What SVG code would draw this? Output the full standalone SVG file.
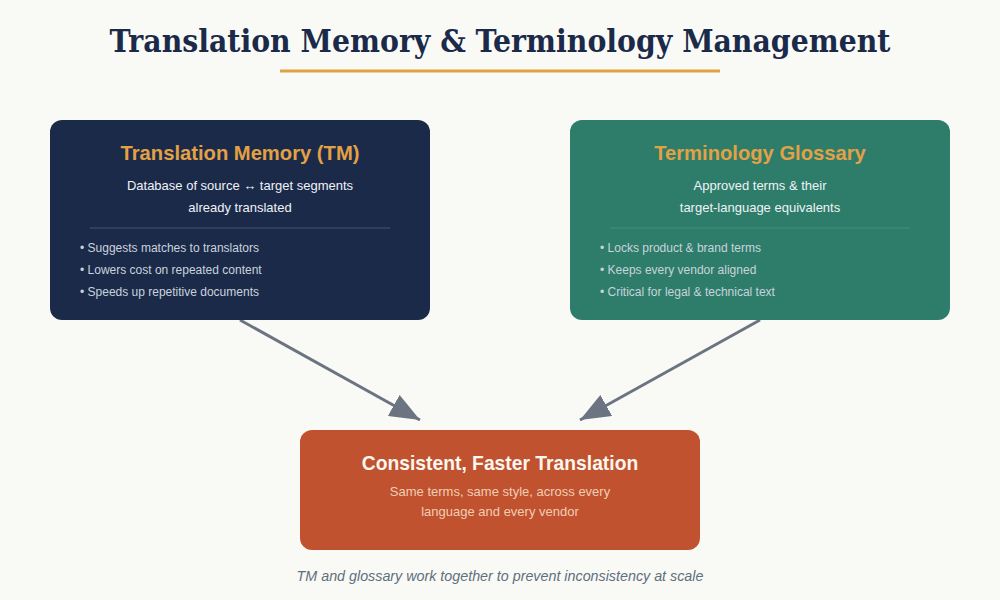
<svg xmlns="http://www.w3.org/2000/svg" width="1000" height="600" viewBox="0 0 1000 600">
<defs>
<style>
.sans{font-family:"Liberation Sans",Arial,sans-serif}
.ttl{font-size:20.2px;font-weight:bold;fill:#e2a145;text-anchor:middle}
.sub{font-size:13px;fill:#eef2f6;text-anchor:middle}
.bul{font-size:12px;fill:#c9d3dc}
.conn{stroke:#6b7480;stroke-width:3;fill:none}
</style>
<marker id="ah" markerUnits="userSpaceOnUse" markerWidth="32" markerHeight="24" refX="30" refY="12" orient="auto">
<path d="M0,0 L30,12 L0,24 Z" fill="#6b7480"/>
</marker>
</defs>
<rect width="1000" height="600" fill="#f9faf6"/>
<text x="500" y="52" font-family="DejaVu Serif,serif" font-weight="bold" font-stretch="condensed" font-size="31.5" fill="#1c2a4a" text-anchor="middle">Translation Memory &amp; Terminology Management</text>
<line x1="280" y1="71" x2="720" y2="71" stroke="#e2a145" stroke-width="3"/>
<g id="connectors">
<line class="conn" x1="240" y1="320" x2="420" y2="420" marker-end="url(#ah)"/>
<line class="conn" x1="760" y1="320" x2="580" y2="420" marker-end="url(#ah)"/>
</g>
<g id="tm" class="sans">
<rect x="50" y="120" width="380" height="200" rx="12" fill="#1c2a4a"/>
<text class="ttl" x="240" y="160">Translation Memory (TM)</text>
<text class="sub" x="240" y="190">Database of source ↔ target segments</text>
<text class="sub" x="240" y="212">already translated</text>
<line x1="90" y1="228" x2="390" y2="228" stroke="#34456a" stroke-width="1.5"/>
<text class="bul" x="80" y="251.5">• Suggests matches to translators</text>
<text class="bul" x="80" y="273.5">• Lowers cost on repeated content</text>
<text class="bul" x="80" y="295.5">• Speeds up repetitive documents</text>
</g>
<g id="glossary" class="sans">
<rect x="570" y="120" width="380" height="200" rx="12" fill="#2e7d6b"/>
<text class="ttl" x="760" y="160">Terminology Glossary</text>
<text class="sub" x="760" y="190">Approved terms &amp; their</text>
<text class="sub" x="760" y="212">target-language equivalents</text>
<line x1="610" y1="228" x2="910" y2="228" stroke="#3a8a78" stroke-width="1.5"/>
<text class="bul" x="600" y="251.5">• Locks product &amp; brand terms</text>
<text class="bul" x="600" y="273.5">• Keeps every vendor aligned</text>
<text class="bul" x="600" y="295.5">• Critical for legal &amp; technical text</text>
</g>
<g id="result" class="sans">
<rect x="300" y="430" width="400" height="120" rx="12" fill="#c0522f"/>
<text x="500" y="470" font-size="19.3" font-weight="bold" fill="#fbf6ee" text-anchor="middle">Consistent, Faster Translation</text>
<text x="500" y="496" font-size="13" fill="#f2cdb4" text-anchor="middle">Same terms, same style, across every</text>
<text x="500" y="516" font-size="13" fill="#f2cdb4" text-anchor="middle">language and every vendor</text>
</g>
<text class="sans" x="500" y="581" font-size="14.3" font-style="italic" fill="#5f6f7c" text-anchor="middle">TM and glossary work together to prevent inconsistency at scale</text>
</svg>
